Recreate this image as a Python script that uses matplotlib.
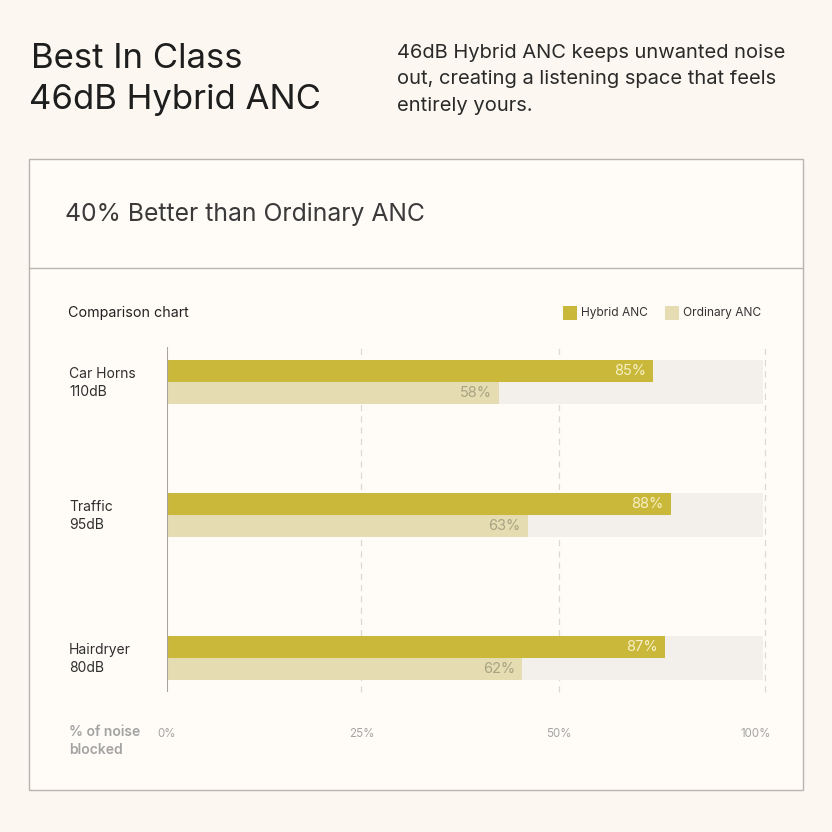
import matplotlib
matplotlib.use("Agg")
import matplotlib.pyplot as plt
from matplotlib.patches import Rectangle
from matplotlib.lines import Line2D
from matplotlib.transforms import ScaledTranslation

# ---- data ----
categories = ["Car Horns\n110dB", "Traffic\n95dB", "Hairdryer\n80dB"]
hybrid = [85, 88, 87]
ordinary = [58, 63, 62]
series_names = ["Hybrid ANC", "Ordinary ANC"]
tick_labels = ["0%", "25%", "50%", "100%"]

# ---- style ----
W = H = 832
BG = "#fcf8f1"
CARD = "#fffcf8"
HYB = "#c9b83a"
ORD = "#e5ddb1"
TRACK = "#f3f0eb"
FONT = ["Inter", "DejaVu Sans"]
plt.rcParams["font.family"] = FONT

fig = plt.figure(figsize=(W / 100, H / 100), dpi=100, facecolor=BG)

def fx(px):
    return px / W

def fy(py):
    return 1 - py / H

# card
fig.patches.append(Rectangle((fx(29), fy(790)), fx(803) - fx(29), fy(159) - fy(790),
                             transform=fig.transFigure, facecolor=CARD,
                             edgecolor="#b9b4ac", lw=1.0, zorder=-5))
fig.lines.append(Line2D([fx(29), fx(803)], [fy(268), fy(268)], transform=fig.transFigure,
                        color="#b9b4ac", lw=1.0, zorder=-4))

# header texts
fig.text(fx(31), fy(59), "Best In Class", fontsize=25, color="#1e1e1e", va="center", ha="left")
fig.text(fx(29), fy(100), "46dB Hybrid ANC", fontsize=25, color="#1e1e1e", va="center", ha="left")
para = ["46dB Hybrid ANC keeps unwanted noise",
        "out, creating a listening space that feels",
        "entirely yours."]
for i, line in enumerate(para):
    fig.text(fx(397), fy(53 + 26.5 * i), line, fontsize=14.5, color="#2a2a2a", va="center", ha="left")

fig.text(fx(65), fy(214), "40% Better than Ordinary ANC", fontsize=17.8, color="#3a3a3a",
         va="center", ha="left")

fig.text(fx(68), fy(313), "Comparison chart", fontsize=10.3, color="#222222", va="center", ha="left")

# legend
for (sx, name, col) in [(563, series_names[0], HYB), (665, series_names[1], ORD)]:
    fig.patches.append(Rectangle((fx(sx), fy(320)), fx(14), fx(14), transform=fig.transFigure,
                                 facecolor=col, edgecolor="none"))
    fig.text(fx(sx + 18), fy(313), name, fontsize=8.6, color="#333333", va="center", ha="left")

# ---- bar axes ----
x0, x1 = 167, 765
y_top, y_bot = 347, 692
ax = fig.add_axes([fx(x0), fy(y_bot), fx(x1) - fx(x0), fy(y_top) - fy(y_bot)])
ax.set_zorder(2)
ax.set_facecolor("none")
xmax = 104.5
ax.set_xlim(0, xmax)
ax.set_ylim(y_bot, y_top)

group_centers = [382, 515, 658]  # layout (pixel rows)
bar_h = 22

for yc, h, o in zip(group_centers, hybrid, ordinary):
    ax.barh(yc, xmax * 0.997, height=2 * bar_h, color=TRACK, zorder=1)
    ax.barh(yc - bar_h / 2, h, height=bar_h, color=HYB, zorder=2)
    ax.barh(yc + bar_h / 2, o, height=bar_h, color=ORD, zorder=2)
    ax.annotate(f"{h}%", (h, yc - bar_h / 2), xytext=(-5, 0), textcoords="offset points",
                ha="right", va="center", fontsize=10.5, color="#f7f0c6", zorder=3)
    ax.annotate(f"{o}%", (o, yc + bar_h / 2), xytext=(-5, 0), textcoords="offset points",
                ha="right", va="center", fontsize=10.5, color="#a8a283", zorder=3)

grid_frac = [0, 0.325, 0.656, 1.0]
ticks = [xmax * f for f in grid_frac]
for t in ticks[1:]:
    ax.axvline(t, color="#dcd8d2", lw=0.9, ls=(0, (5, 4)), zorder=0, clip_on=False)
ax.axvline(0, color="#a8a29a", lw=1.5, zorder=4)

ax.set_xticks(ticks)
ax.set_xticklabels(tick_labels, fontsize=8.3, color="#a6a6a6")
ax.tick_params(axis="x", length=0, pad=26)
last = ax.get_xticklabels()[-1]
last.set_transform(last.get_transform() + ScaledTranslation(-9 / 100, 0, fig.dpi_scale_trans))
ax.set_yticks([])
for s in ax.spines.values():
    s.set_visible(False)

# category labels
for yc, lab in zip(group_centers, categories):
    fig.text(fx(69), fy(yc + 1), lab, fontsize=10, color="#2e2e2e", va="center", ha="left",
             linespacing=1.35)

fig.text(fx(69), fy(741), "% of noise\nblocked", fontsize=10, color="#a3a3a3", va="center",
         ha="left", fontweight="semibold", linespacing=1.3)

fig.savefig("out.png", dpi=100, facecolor=BG)
